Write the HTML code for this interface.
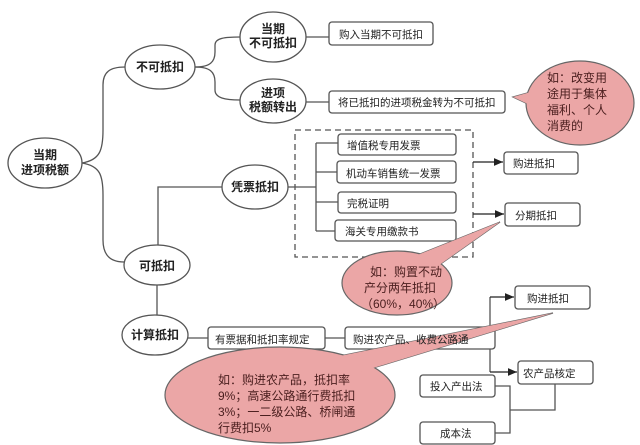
<!DOCTYPE html>
<html><head><meta charset="utf-8"><style>
html,body{margin:0;padding:0;background:#fff;}
svg{display:block;font-family:"Liberation Sans","Noto Sans CJK SC",sans-serif;}
</style></head><body>
<svg width="640" height="445" viewBox="0 0 640 445" xmlns="http://www.w3.org/2000/svg">
<defs><marker id="a" markerWidth="8" markerHeight="8" refX="7" refY="4" orient="auto"><path d="M0,1 L7,4 L0,7z" fill="#222"/></marker></defs>
<g fill="none" stroke="#555" stroke-width="1.3">
<path d="M82,163 C100,160 103,150 103,130 L103,85 C103,72 110,67 125,67"/>
<path d="M82,163 C100,166 103,175 103,195 L103,240 C103,255 110,262 124,262"/>
<path d="M195,67 C210,67 215,62 215,52 L215,45 C215,38 225,37 240,37"/>
<path d="M195,67 C210,67 215,72 215,82 L215,90 C215,98 225,100 240,100"/>
<line x1="306" y1="37" x2="329" y2="37"/>
<line x1="306" y1="102" x2="329" y2="102"/>
<path d="M222,187 L158,187 L158,245"/>
<line x1="157" y1="285" x2="157" y2="315"/>
<line x1="188" y1="338" x2="208" y2="338"/>
<line x1="325" y1="338" x2="345" y2="338"/>
<line x1="288" y1="187" x2="316" y2="187"/>
<line x1="316" y1="143" x2="316" y2="231"/>
<line x1="316" y1="143" x2="338" y2="143"/>
<line x1="316" y1="172" x2="337" y2="172"/>
<line x1="316" y1="202" x2="338" y2="202"/>
<line x1="316" y1="231" x2="335" y2="231"/>
<rect x="295" y="130" width="178" height="127" stroke-dasharray="6,4"/>
<path d="M473,162 L503,162" marker-end="url(#a)" stroke="#222"/>
<path d="M473,214 L504,214" marker-end="url(#a)" stroke="#222"/>
<path d="M495,342 L490,342 M490,297 L490,372"/>
<path d="M490,297 L514,297" marker-end="url(#a)" stroke="#222"/>
<path d="M490,372 L517,372" marker-end="url(#a)" stroke="#222"/>
<path d="M495,386 L510,386 L510,433 L495,433 M510,410 L555,410 L555,384"/>
</g>
<g fill="#fff" stroke="#555" stroke-width="1.3">
<ellipse cx="45" cy="163" rx="37" ry="25"/>
<ellipse cx="160" cy="67" rx="35" ry="22"/>
<ellipse cx="273" cy="37" rx="33" ry="25"/>
<ellipse cx="273" cy="101" rx="33" ry="22"/>
<ellipse cx="255" cy="187" rx="33" ry="22"/>
<ellipse cx="157" cy="265" rx="33" ry="20"/>
<ellipse cx="155" cy="335" rx="33" ry="20"/>
<rect x="329" y="22" width="104" height="23" rx="3"/>
<rect x="329" y="91" width="176" height="22" rx="3"/>
<rect x="338" y="134" width="118" height="21" rx="3"/>
<rect x="337" y="161" width="119" height="22" rx="3"/>
<rect x="338" y="192" width="118" height="21" rx="3"/>
<rect x="335" y="220" width="121" height="21" rx="3"/>
<rect x="504" y="152" width="74" height="22" rx="3"/>
<rect x="505" y="203" width="75" height="23" rx="3"/>
<rect x="208" y="327" width="117" height="22" rx="3"/>
<rect x="345" y="327" width="150" height="22" rx="3"/>
<rect x="515" y="286" width="75" height="23" rx="3"/>
<rect x="518" y="361" width="75" height="23" rx="3"/>
<rect x="420" y="375" width="75" height="22" rx="3"/>
<rect x="420" y="422" width="75" height="22" rx="3"/>
</g>
<g fill="#eba6a6" stroke="#666" stroke-width="1.2">
<polygon points="513,97 545,88 545,112"/>
<ellipse cx="580" cy="103" rx="54" ry="42"/>
<polygon points="500,222 405,260 435,268"/>
<ellipse cx="397" cy="283" rx="55" ry="32"/>
<polygon points="553,313 320,360 360,372"/>
<ellipse cx="280" cy="395" rx="115" ry="48"/>
</g>
<g fill="#eba6a6" stroke="none">
<polygon points="513,97 545,88 545,112"/>
<polygon points="500,222 405,260 435,268"/>
<polygon points="553,313 320,360 360,372"/>
</g>
<g font-size="12" font-weight="bold" fill="#222" text-anchor="middle">
<text x="45" y="159">当期</text><text x="45" y="174">进项税额</text>
<text x="160" y="71">不可抵扣</text>
<text x="273" y="33">当期</text><text x="273" y="47">不可抵扣</text>
<text x="273" y="97">进项</text><text x="273" y="111">税额转出</text>
<text x="255" y="191">凭票抵扣</text>
<text x="157" y="270">可抵扣</text>
<text x="155" y="339">计算抵扣</text>
</g>
<g font-size="10.5" fill="#222">
<text x="339" y="38">购入当期不可抵扣</text>
<text x="338" y="106">将已抵扣的进项税金转为不可抵扣</text>
<text x="347" y="149">增值税专用发票</text>
<text x="346" y="177">机动车销售统一发票</text>
<text x="347" y="207">完税证明</text>
<text x="345" y="235">海关专用缴款书</text>
<text x="513" y="167">购进抵扣</text>
<text x="515" y="219">分期抵扣</text>
<text x="215" y="343">有票据和抵扣率规定</text>
<text x="353" y="343">购进农产品、收费公路通</text>
<text x="527" y="302">购进抵扣</text>
<text x="523" y="377">农产品核定</text>
<text x="430" y="390">投入产出法</text>
<text x="440" y="437">成本法</text>
</g>
<g font-size="12" fill="#4a1e1e">
<text x="547" y="82">如：改变用</text><text x="547" y="98">途用于集体</text>
<text x="547" y="114">福利、个人</text><text x="547" y="130">消费的</text>
<text x="370" y="276">如：购置不动</text><text x="364" y="292">产分两年抵扣</text>
<text x="361" y="308">（60%，40%）</text>
<text x="218" y="384">如：购进农产品，抵扣率</text>
<text x="218" y="400">9%；高速公路通行费抵扣</text>
<text x="218" y="416">3%；一二级公路、桥闸通</text>
<text x="218" y="432">行费扣5%</text>
</g>
</svg>
</body></html>
